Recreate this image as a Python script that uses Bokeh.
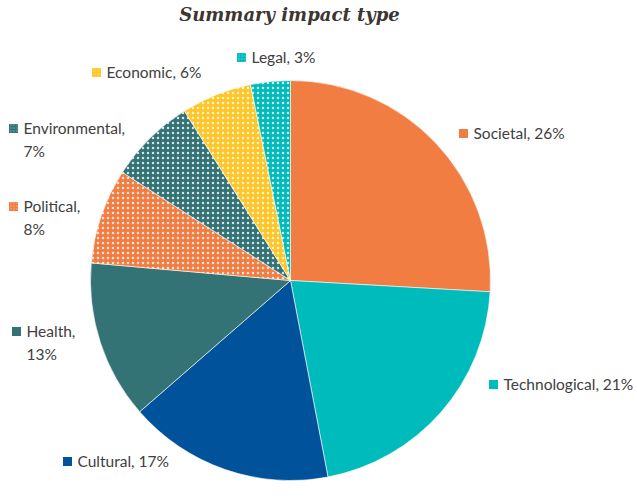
import numpy as np
from bokeh.plotting import figure
from bokeh.models import ColumnDataSource, Range1d
from bokeh.core.properties import value
from bokeh.embed import file_html
from bokeh.resources import INLINE

# ---- data ----
title_text = "Summary impact type"
categories = ["Societal", "Technological", "Cultural", "Health",
              "Political", "Environmental", "Economic", "Legal"]
shares = [25.9, 21.1, 16.6, 12.8, 7.7, 7.0, 5.7, 3.2]
percent_labels = ["26%", "21%", "17%", "13%", "8%", "7%", "6%", "3%"]
colors = ["#F27D42", "#00BBBC", "#00529B", "#347375",
          "#F27D42", "#347375", "#FFC629", "#00BBBC"]
dotted = [False, False, False, False, True, True, True, True]
# label line breaks (True -> percentage on a second line)
two_line = [False, False, False, True, True, True, False, False]

# ---- layout (picture pixel coordinates of the label markers) ----
label_pos = [(463, 133), (493, 384), (67, 461), (16, 331),
             (13, 206), (13, 128), (96, 72), (241, 57)]

W, H = 637, 497
def px(x): return x
def py(y): return H - y

cx, cy, R = px(290), py(280), 200

frac = np.array(shares) / np.sum(shares)
cum = np.concatenate([[0], np.cumsum(frac)])
start = np.pi / 2 - 2 * np.pi * cum[:-1]
end = np.pi / 2 - 2 * np.pi * cum[1:]

src = ColumnDataSource(dict(
    start=start, end=end, color=colors,
    hatch=["dot" if d else " " for d in dotted],
))

p = figure(width=W, height=H, output_backend="svg", toolbar_location=None,
           x_range=Range1d(0, W), y_range=Range1d(0, H), min_border=0)
p.axis.visible = False
p.grid.visible = False
p.outline_line_color = None
p.background_fill_color = "white"
p.border_fill_color = "white"

p.wedge(x=cx, y=cy, radius=R, start_angle="start", end_angle="end",
        direction="clock", source=src, fill_color="color",
        line_color="white", line_width=0.6,
        hatch_pattern="hatch", hatch_color="white", hatch_alpha=0.8,
        hatch_scale=5, hatch_weight=0.5)

# labels
mx = [px(x) for x, y in label_pos]
my = [py(y) for x, y in label_pos]
texts = [f"{c},\n{pl}" if t else f"{c}, {pl}"
         for c, pl, t in zip(categories, percent_labels, two_line)]
lsrc = ColumnDataSource(dict(x=mx, y=my, tx=[x + 10 for x in mx],
                             ty=my, text=texts, color=colors,
                             hatch=["dot" if d else " " for d in dotted]))
p.scatter(x="x", y="y", marker="square", size=9, source=lsrc,
          fill_color="color", line_color=None,
          hatch_pattern="hatch", hatch_color="white", hatch_scale=3,
          hatch_weight=0.5, hatch_alpha=0.4)
p.text(x="tx", y="ty", text="text", source=lsrc,
       text_font=value("Lato"), text_font_size="15.5px",
       text_color="#404040", text_baseline="top", text_align="left",
       text_line_height=1.3, y_offset=-10)

p.text(x=[px(289)], y=[py(14)], text=[title_text],
       text_font=value("DejaVu Serif"), text_font_size="18px",
       text_font_style="bold italic", text_color="#3D3532",
       text_align="center", text_baseline="middle")

open("out.html", "w").write(file_html(p, INLINE))
